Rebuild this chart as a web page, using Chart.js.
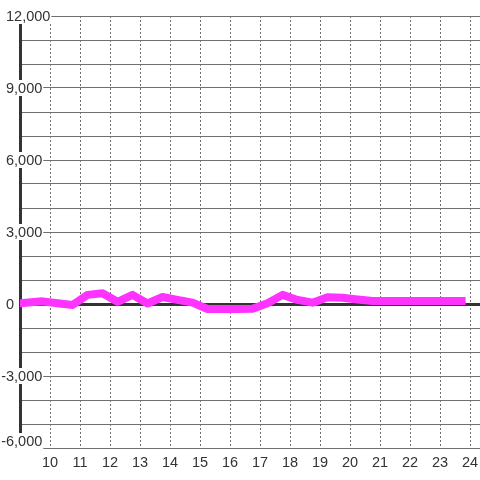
<!DOCTYPE html>
<html>
<head>
<meta charset="utf-8">
<script src="https://cdn.jsdelivr.net/npm/chart.js@4"></script>
<style>
  body { margin: 0; background: #fff; }
  canvas { display: block; }
</style>
</head>
<body>
<canvas id="myChart" width="480" height="480"></canvas>
<script>
// Hours of the day (x) and values (y)
const hours = [8.75, 9.0, 9.75, 10.25, 10.75, 11.25, 11.75, 12.25, 12.75, 13.25, 13.75, 14.25, 14.75,
               15.25, 15.75, 16.25, 16.75, 17.25, 17.75, 18.25, 18.75, 19.25, 19.75, 20.25, 20.75,
               21.25, 21.75, 22.25, 22.75, 23.25, 23.85];
const values = [20, 30, 110, 35, -40, 380, 450, 90, 380, 20, 290, 170, 55,
                -210, -210, -210, -200, 30, 380, 170, 55, 280, 260, 190, 125,
                125, 125, 125, 125, 125, 125];

// Tick labels
const xTicks = [10, 11, 12, 13, 14, 15, 16, 17, 18, 19, 20, 21, 22, 23, 24];
const yLabelValues = [-6000, -3000, 0, 3000, 6000, 9000, 12000];

const FONT = '14.5px "Liberation Sans", Arial, sans-serif';
const TEXT_COLOR = '#333';
const GRID_COLOR = '#707070';

// Draws the y labels over the axis line with a white box behind them
const yLabelPlugin = {
    id: 'yLabels',
    afterDraw(chart) {
        const ctx = chart.ctx;
        const yScale = chart.scales.y;
        const bottom = chart.chartArea.bottom;
        ctx.save();
        ctx.font = FONT;
        ctx.textBaseline = 'middle';
        ctx.textAlign = 'left';
        yLabelValues.forEach(v => {
            const text = v.toLocaleString('en-US');
            const py = Math.min(yScale.getPixelForValue(v), bottom - 7);
            const w = ctx.measureText(text).width;
            const x0 = v < 0 ? 6 - ctx.measureText('-').width : 6;
            ctx.fillStyle = '#fff';
            ctx.fillRect(x0 - 1, py - 8, w + 2, 16);
            ctx.fillStyle = TEXT_COLOR;
            ctx.fillText(text, x0, py + 1);
        });
        ctx.restore();
    }
};

const ctx = document.getElementById('myChart').getContext('2d');

const myChart = new Chart(ctx, {
    type: 'line',
    data: {
        datasets: [{
            data: hours.map((h, i) => ({ x: h, y: values[i] })),
            borderColor: '#ff33ff',
            borderWidth: 8,
            borderJoinStyle: 'round',
            pointRadius: 0,
            tension: 0,
            fill: false
        }]
    },
    options: {
        responsive: false,
        animation: false,
        layout: { padding: { top: 16, left: 0, right: 0, bottom: 0 } },
        plugins: {
            legend: { display: false },
            tooltip: { enabled: false }
        },
        scales: {
            x: {
                type: 'linear',
                min: 9,
                max: 24.33,
                afterBuildTicks: scale => { scale.ticks = xTicks.map(v => ({ value: v })); },
                afterFit: scale => {
                    scale.height = 32;
                    scale.paddingLeft = 0;
                    scale.paddingRight = 0;
                },
                grid: { color: GRID_COLOR, lineWidth: 1, drawTicks: false },
                border: { display: false, dash: [2, 2] },
                ticks: {
                    color: TEXT_COLOR,
                    font: { family: '"Liberation Sans", Arial, sans-serif', size: 14.5 },
                    padding: 6,
                    maxRotation: 0
                }
            },
            y: {
                min: -6000,
                max: 12000,
                afterFit: scale => { scale.width = 20; },
                grid: {
                    color: c => c.tick && c.tick.value === 0 ? '#333' : GRID_COLOR,
                    lineWidth: c => c.tick && c.tick.value === 0 ? 3 : 1,
                    drawTicks: false
                },
                border: { display: true, color: '#333', width: 3 },
                ticks: { stepSize: 1000, display: false }
            }
        }
    },
    plugins: [yLabelPlugin]
});
</script>
</body>
</html>
